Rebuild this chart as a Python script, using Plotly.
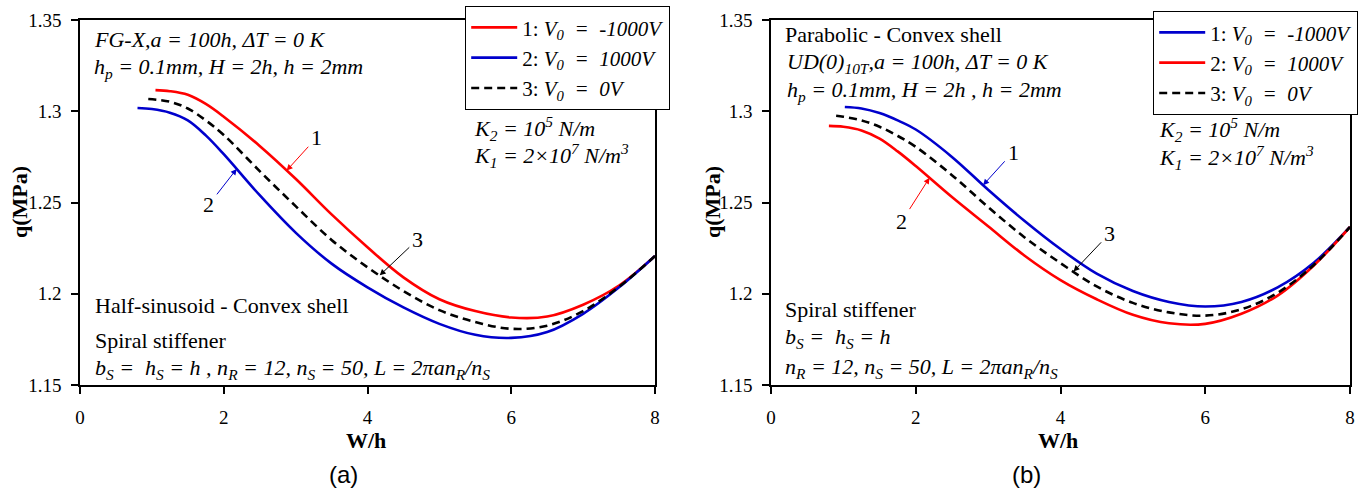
import numpy as np
import plotly.graph_objects as go

# ---------------- data ----------------
# Panel (a): Half-sinusoid - Convex shell
a_x_red = [1.05, 1.25, 1.5, 1.75, 2.0, 2.5, 3.0, 3.5, 4.0, 4.5, 5.0, 5.5, 6.0, 6.5, 7.0, 7.5, 8.0]
a_q_red = [1.3116, 1.3110, 1.3090, 1.3040, 1.297, 1.281, 1.263, 1.2435, 1.2255, 1.209, 1.197, 1.1905, 1.187, 1.1875, 1.194, 1.2045, 1.2207]

a_x_blue = [0.8, 1.0, 1.25, 1.5, 1.75, 2.0, 2.5, 3.0, 3.5, 4.0, 4.5, 5.0, 5.5, 6.0, 6.5, 7.0, 7.5, 8.0]
a_q_blue = [1.3018, 1.3012, 1.2992, 1.2950, 1.2868, 1.2765, 1.2540, 1.2335, 1.2165, 1.2035, 1.1925, 1.1835, 1.1775, 1.1758, 1.179, 1.189, 1.2035, 1.2207]

a_x_black = [0.95, 1.25, 1.5, 1.75, 2.0, 2.5, 3.0, 3.5, 4.0, 4.5, 5.0, 5.5, 6.0, 6.5, 7.0, 7.5, 8.0]
a_q_black = [1.3067, 1.3052, 1.3015, 1.2950, 1.2870, 1.2672, 1.248, 1.2295, 1.2145, 1.2015, 1.191, 1.1845, 1.1808, 1.1825, 1.1905, 1.2038, 1.2207]

# Panel (b): Parabolic - Convex shell
b_x_blue = [1.02, 1.25, 1.5, 1.75, 2.0, 2.5, 3.0, 3.5, 4.0, 4.5, 5.0, 5.5, 6.0, 6.5, 7.0, 7.5, 8.0]
b_q_blue = [1.3023, 1.3015, 1.2990, 1.2950, 1.2900, 1.2750, 1.257, 1.240, 1.2245, 1.211, 1.2015, 1.1955, 1.193, 1.1955, 1.2035, 1.217, 1.2366]

b_x_red = [0.8, 1.0, 1.25, 1.5, 1.75, 2.0, 2.5, 3.0, 3.5, 4.0, 4.5, 5.0, 5.5, 6.0, 6.5, 7.0, 7.5, 8.0]
b_q_red = [1.292, 1.2915, 1.2895, 1.2850, 1.2780, 1.2700, 1.253, 1.237, 1.221, 1.2075, 1.197, 1.1885, 1.1838, 1.1835, 1.189, 1.199, 1.2155, 1.2366]

b_x_black = [0.9, 1.0, 1.25, 1.5, 1.75, 2.0, 2.5, 3.0, 3.5, 4.0, 4.5, 5.0, 5.5, 6.0, 6.5, 7.0, 7.5, 8.0]
b_q_black = [1.2975, 1.2970, 1.2950, 1.2915, 1.2865, 1.2805, 1.265, 1.2475, 1.231, 1.2168, 1.204, 1.195, 1.1898, 1.188, 1.1915, 1.2005, 1.2158, 1.2366]

x_ticks = [0, 2, 4, 6, 8]
y_ticks = [1.15, 1.2, 1.25, 1.3, 1.35]
y_tick_text = ["1.15", "1.2", "1.25", "1.3", "1.35"]

NB = "\u00a0"
legend_a = [f"1:{NB}<i>V<sub>0</sub>{NB}{NB}={NB}{NB}-1000V</i>",
            f"2:{NB}<i>V<sub>0</sub>{NB}{NB}={NB}{NB}1000V</i>",
            f"3:{NB}<i>V<sub>0</sub>{NB}{NB}={NB}{NB}0V</i>"]
legend_b = [f"1:{NB}<i>V<sub>0</sub>{NB}{NB}={NB}{NB}-1000V</i>",
            f"2:{NB}<i>V<sub>0</sub>{NB}{NB}={NB}{NB}1000V</i>",
            f"3:{NB}<i>V<sub>0</sub>{NB}{NB}={NB}{NB}0V</i>"]

# curve-label arrow positions (x on the curve)
a_arrow_x = [2.875, 2.18, 4.17]
b_arrow_x = [2.93, 2.19, 4.18]

# ---------------- figure ----------------
W, H = 1362, 488
SERIF = "Liberation Serif"
RED = "#ff0000"
BLUE = "#0000cc"
TXT = 22


def px(v):
    return v / W


def py(v):
    return 1 - v / H


fig = go.Figure()
lw = 2.6
dash = "8px,5px"
sm = 1.0

# panel a
fig.add_trace(go.Scatter(x=a_x_red, y=a_q_red, mode="lines", name=legend_a[0],
                         line=dict(color=RED, width=lw, shape="spline", smoothing=sm),
                         xaxis="x", yaxis="y", legend="legend"))
fig.add_trace(go.Scatter(x=a_x_blue, y=a_q_blue, mode="lines", name=legend_a[1],
                         line=dict(color=BLUE, width=lw, shape="spline", smoothing=sm),
                         xaxis="x", yaxis="y", legend="legend"))
fig.add_trace(go.Scatter(x=a_x_black, y=a_q_black, mode="lines", name=legend_a[2],
                         line=dict(color="black", width=lw, dash=dash, shape="spline", smoothing=sm),
                         xaxis="x", yaxis="y", legend="legend"))
# panel b
fig.add_trace(go.Scatter(x=b_x_blue, y=b_q_blue, mode="lines", name=legend_b[0],
                         line=dict(color=BLUE, width=lw, shape="spline", smoothing=sm),
                         xaxis="x2", yaxis="y2", legend="legend2"))
fig.add_trace(go.Scatter(x=b_x_red, y=b_q_red, mode="lines", name=legend_b[1],
                         line=dict(color=RED, width=lw, shape="spline", smoothing=sm),
                         xaxis="x2", yaxis="y2", legend="legend2"))
fig.add_trace(go.Scatter(x=b_x_black, y=b_q_black, mode="lines", name=legend_b[2],
                         line=dict(color="black", width=lw, dash=dash, shape="spline", smoothing=sm),
                         xaxis="x2", yaxis="y2", legend="legend2"))

axis_common = dict(showline=True, linecolor="black", linewidth=1.5, mirror=True,
                   ticks="outside", ticklen=7, tickwidth=1.5, tickcolor="black",
                   showgrid=False, zeroline=False, automargin=False,
                   tickfont=dict(family=SERIF, size=19, color="black"))

x_dom_a = [px(80), px(655)]
x_dom_b = [px(771), px(1350)]
y_dom = [py(385), py(20)]

legend_common = dict(xanchor="left", yanchor="top",
                     bgcolor="white", bordercolor="black", borderwidth=1.2,
                     font=dict(family=SERIF, size=21, color="black"),
                     itemwidth=46, tracegroupgap=0, itemclick=False, itemdoubleclick=False)

fig.update_layout(
    width=W, height=H,
    margin=dict(l=0, r=0, t=0, b=0, autoexpand=False),
    paper_bgcolor="white", plot_bgcolor="white",
    xaxis=dict(domain=x_dom_a, range=[0, 8], tickvals=x_ticks, anchor="y",
               ticklabelstandoff=7, **axis_common),
    yaxis=dict(domain=y_dom, range=[1.15, 1.35], tickvals=y_ticks, ticktext=y_tick_text, anchor="x",
               ticklabelstandoff=6, **axis_common),
    xaxis2=dict(domain=x_dom_b, range=[0, 8], tickvals=x_ticks, anchor="y2",
                ticklabelstandoff=7, **axis_common),
    yaxis2=dict(domain=y_dom, range=[1.15, 1.35], tickvals=y_ticks, ticktext=y_tick_text, anchor="x2",
                ticklabelstandoff=6, **axis_common),
    legend=dict(x=px(465), y=py(6), **legend_common),
    legend2=dict(x=px(1153), y=py(11), **legend_common),
    showlegend=True,
)

anns = []


def text(xp, yp, s, size=TXT, family=SERIF, xanchor="left", angle=0):
    anns.append(dict(x=px(xp), y=py(yp), xref="paper", yref="paper", text=s,
                     showarrow=False, xanchor=xanchor, yanchor="middle", textangle=angle,
                     font=dict(family=family, size=size, color="black")))


# axis titles
text(366, 440, "<b>W/h</b>", xanchor="center")
text(1058, 440, "<b>W/h</b>", xanchor="center")
text(20, 202, "<b>q(MPa)</b>", xanchor="center", angle=-90)
text(713, 202, "<b>q(MPa)</b>", xanchor="center", angle=-90)

# panel (a) texts
text(92, 40, "<i>FG-X,a = 100h, ΔT = 0 K</i>")
text(92, 68, "<i>h<sub>p</sub> = 0.1mm, H = 2h, h = 2mm</i>")
text(472, 128, "<i>K<sub>2</sub> = 10<sup>5</sup> N/m</i>")
text(472, 155, "<i>K<sub>1</sub> = 2×10<sup>7</sup> N/m<sup>3</sup></i>")
text(93, 305, "Half-sinusoid - Convex shell")
text(93, 340, "Spiral stiffener")
text(93, 369, "<i>b<sub>S</sub> =  h<sub>S</sub> = h , n<sub>R</sub> = 12, n<sub>S</sub> = 50, L = 2πan<sub>R</sub>/n<sub>S</sub></i>")
# panel (b) texts
text(783, 34, "Parabolic - Convex shell")
text(785, 63, "<i>UD(0)<sub>10T</sub>,a = 100h, ΔT = 0 K</i>")
text(785, 91, "<i>h<sub>p</sub> = 0.1mm, H = 2h , h = 2mm</i>")
text(1157, 129, "<i>K<sub>2</sub> = 10<sup>5</sup> N/m</i>")
text(1157, 157, "<i>K<sub>1</sub> = 2×10<sup>7</sup> N/m<sup>3</sup></i>")
text(783, 309, "Spiral stiffener")
text(783, 338, "<i>b<sub>S</sub> =  h<sub>S</sub> = h</i>")
text(783, 368, "<i>n<sub>R</sub> = 12, n<sub>S</sub> = 50, L = 2πan<sub>R</sub>/n<sub>S</sub></i>")

# panel captions
text(343, 474, "(a)", size=24, family="Liberation Sans", xanchor="center")
text(1026, 474, "(b)", size=24, family="Liberation Sans", xanchor="center")


# curve-label arrows
def arrow(xr, yr, xv, xs, ys, label, color, ax, ay):
    yv = float(np.interp(xv, xs, ys))
    anns.append(dict(x=xv, y=yv, xref=xr, yref=yr, text=label, showarrow=True,
                     ax=ax, ay=ay, arrowhead=2, arrowsize=1.2, arrowwidth=1, arrowcolor=color,
                     standoff=0, startstandoff=2,
                     font=dict(family=SERIF, size=22, color="black")))


arrow("x", "y", a_arrow_x[0], a_x_red, a_q_red, "1", RED, 30, -33)
arrow("x", "y", a_arrow_x[1], a_x_blue, a_q_blue, "2", BLUE, -28, 36)
arrow("x", "y", a_arrow_x[2], a_x_black, a_q_black, "3", "black", 38, -36)
arrow("x2", "y2", b_arrow_x[0], b_x_blue, b_q_blue, "1", BLUE, 30, -33)
arrow("x2", "y2", b_arrow_x[1], b_x_red, b_q_red, "2", RED, -28, 44)
arrow("x2", "y2", b_arrow_x[2], b_x_black, b_q_black, "3", "black", 36, -38)

fig.update_layout(annotations=anns)

fig.write_html("out.html",
               config={"displayModeBar": False},
               post_script="document.body.style.margin='0';document.body.style.overflow='hidden';")
